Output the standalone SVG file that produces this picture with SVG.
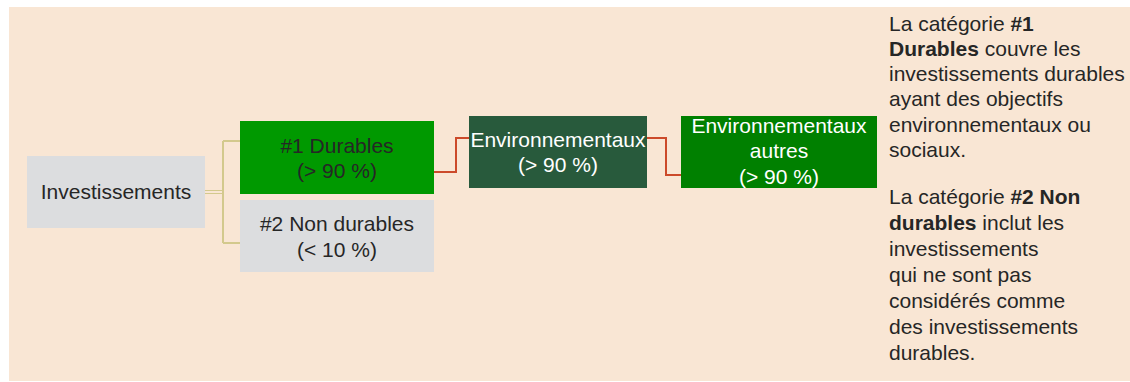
<svg xmlns="http://www.w3.org/2000/svg" width="1130" height="382" viewBox="0 0 1130 382">
<style>
text{font-family:"Liberation Sans",Arial,sans-serif;font-size:21px;fill:#262626}
.c{text-anchor:middle}
.w{fill:#ffffff}
.b{font-weight:bold}
.gray{fill:#dcdddf}
.tan{fill:none;stroke:#d3c98d;stroke-width:2}
.tan1{fill:none;stroke:#d3c98d;stroke-width:1.2}
.red{fill:none;stroke:#cc4a2a;stroke-width:2}
</style>
<rect x="0" y="0" width="1130" height="382" fill="#ffffff"/>
<rect x="9" y="7" width="1121" height="374" fill="#f9e6d4"/>
<g id="connectors">
<path class="tan1" d="M205 190.5H223M205 193.5H223"/>
<path class="tan" d="M223 141V243M223 141H240M223 243H240"/>
<path class="red" d="M434 172H456V138H469"/>
<path class="red" d="M647 138H666V175H681"/>
</g>
<g id="investissements">
<rect class="gray" x="27" y="156" width="178" height="72"/>
<text class="c" x="116" y="199">Investissements</text>
</g>
<g id="durables">
<rect x="240" y="121" width="194" height="73" fill="#009900"/>
<text class="c" x="337" y="153">#1 Durables</text>
<text class="c" x="337" y="178">(&gt; 90 %)</text>
</g>
<g id="non-durables">
<rect class="gray" x="240" y="200" width="194" height="72"/>
<text class="c" x="337" y="231">#2 Non durables</text>
<text class="c" x="337" y="257">(&lt; 10 %)</text>
</g>
<g id="environnementaux">
<rect x="469" y="116" width="178" height="72" fill="#285a3c"/>
<text class="c w" x="558" y="147">Environnementaux</text>
<text class="c w" x="558" y="172">(&gt; 90 %)</text>
</g>
<g id="env-autres">
<rect x="681" y="116" width="196" height="72" fill="#008000"/>
<text class="c w" x="779" y="133">Environnementaux</text>
<text class="c w" x="779" y="158">autres</text>
<text class="c w" x="779" y="184">(&gt; 90 %)</text>
</g>
<g id="legend">
<text x="889" y="31">La catégorie <tspan class="b">#1</tspan></text>
<text x="889" y="56"><tspan class="b">Durables</tspan> couvre les</text>
<text x="889" y="81">investissements durables</text>
<text x="889" y="106">ayant des objectifs</text>
<text x="889" y="132">environnementaux ou</text>
<text x="889" y="157">sociaux.</text>
<text x="889" y="204">La catégorie <tspan class="b">#2 Non</tspan></text>
<text x="889" y="230"><tspan class="b">durables</tspan> inclut les</text>
<text x="889" y="256">investissements</text>
<text x="889" y="282">qui ne sont pas</text>
<text x="889" y="308">considérés comme</text>
<text x="889" y="334">des investissements</text>
<text x="889" y="360">durables.</text>
</g>
</svg>
